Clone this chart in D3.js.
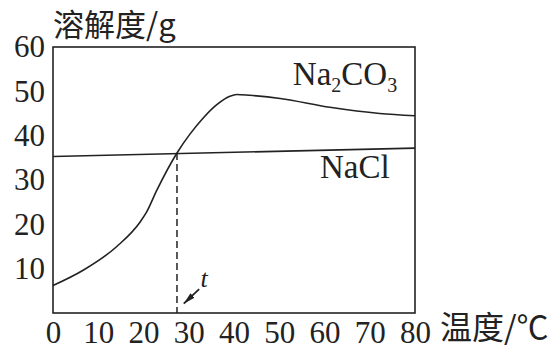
<!DOCTYPE html>
<html>
<head>
<meta charset="utf-8">
<script src="https://cdn.jsdelivr.net/npm/d3@7"></script>
<style>
  body { margin: 0; background: #fff; }
  svg { display: block; }
  .tick text { font-family: "Liberation Serif", "Times New Roman", serif; font-size: 31px; fill: #222; }
</style>
</head>
<body>
<svg id="chart" width="559" height="355"></svg>
<script>
// temperature ticks (°C) and solubility ticks (g)
const xTicks = [0, 10, 20, 30, 40, 50, 60, 70, 80];
const yTicks = [10, 20, 30, 40, 50, 60];

// Na2CO3 solubility curve: [temperature, solubility]
const na2co3 = [
  [0, 6.2], [6.75, 9.7], [14.1, 15.0], [19.3, 20.6], [20.7, 22.8],
  [22.9, 27.6], [27.4, 36.1], [30.3, 40.4], [33.2, 44.0], [36.2, 47.0],
  [39.1, 48.9], [40.6, 49.3], [43.5, 49.1], [50.2, 48.4], [61.2, 46.4],
  [72.2, 45.0], [80, 44.5]
];
// NaCl solubility line
const nacl = [[0, 35.3], [80, 37.2]];

// crossing point t and annotation anchors (data coords)
const crossing = [27.4, 36.1];
const arrowFrom = [32.3, 5.4];
const arrowTo = [28.9, 2.1];
const tLabel = [32.6, 5.8];
const na2co3Label = [53.0, 51.5];
const naclLabel = [59.0, 30.5];

const margin = {top: 47, right: 144, bottom: 42, left: 53};
const width = 559, height = 355;

const svg = d3.select("#chart");

const x = d3.scaleLinear().domain([0, 80]).range([margin.left, width - margin.right]);
const y = d3.scaleLinear().domain([0, 60]).range([height - margin.bottom, margin.top]);

const ink = "#222";
const serif = '"Liberation Serif", "Times New Roman", serif';
const cjk = '"Noto Sans CJK SC", sans-serif';

// frame
svg.append("rect")
  .attr("x", x(0)).attr("y", y(60))
  .attr("width", x(80) - x(0)).attr("height", y(0) - y(60))
  .attr("fill", "none").attr("stroke", ink).attr("stroke-width", 1.6);

// axes (labels only, no tick marks)
const xAxis = svg.append("g")
  .attr("transform", `translate(0,${y(0)})`)
  .call(d3.axisBottom(x).tickValues(xTicks).tickSize(0).tickPadding(8).tickFormat(d3.format("d")));
xAxis.select(".domain").remove();

const yAxis = svg.append("g")
  .attr("transform", `translate(${x(0)},0)`)
  .call(d3.axisLeft(y).tickValues(yTicks).tickSize(0).tickPadding(8).tickFormat(d3.format("d")));
yAxis.select(".domain").remove();

// axis titles
svg.append("text")
  .attr("x", x(0)).attr("y", 36)
  .attr("font-family", cjk).attr("font-size", 31).attr("fill", ink)
  .text("溶解度/g");

svg.append("text")
  .attr("x", 440).attr("y", 339)
  .attr("font-family", cjk).attr("font-size", 32).attr("fill", ink)
  .text("温度/℃");

// curves
const line = d3.line()
  .x(d => x(d[0]))
  .y(d => y(d[1]))
  .curve(d3.curveMonotoneX);

svg.append("path")
  .datum(na2co3)
  .attr("d", line)
  .attr("fill", "none").attr("stroke", ink).attr("stroke-width", 1.6);

svg.append("path")
  .datum(nacl)
  .attr("d", line)
  .attr("fill", "none").attr("stroke", ink).attr("stroke-width", 1.6);

// dashed drop line at t
svg.append("line")
  .attr("x1", x(crossing[0])).attr("x2", x(crossing[0]))
  .attr("y1", y(crossing[1])).attr("y2", y(0))
  .attr("stroke", ink).attr("stroke-width", 1.5)
  .attr("stroke-dasharray", "7,4");

// arrow to t
svg.append("defs").append("marker")
  .attr("id", "arrow")
  .attr("viewBox", "0 0 12 6")
  .attr("refX", 12).attr("refY", 3)
  .attr("markerWidth", 12).attr("markerHeight", 6)
  .attr("markerUnits", "userSpaceOnUse")
  .attr("orient", "auto")
  .append("path")
  .attr("d", "M0,0 L12,3 L0,6 Z")
  .attr("fill", ink);

svg.append("line")
  .attr("x1", x(arrowFrom[0])).attr("y1", y(arrowFrom[1]))
  .attr("x2", x(arrowTo[0])).attr("y2", y(arrowTo[1]))
  .attr("stroke", ink).attr("stroke-width", 1.8)
  .attr("marker-end", "url(#arrow)");

svg.append("text")
  .attr("x", x(tLabel[0])).attr("y", y(tLabel[1]))
  .attr("font-family", serif).attr("font-style", "italic")
  .attr("font-size", 26).attr("fill", ink)
  .text("t");

// series labels
const lab1 = svg.append("text")
  .attr("x", x(na2co3Label[0])).attr("y", y(na2co3Label[1]))
  .attr("font-family", serif).attr("font-size", 33).attr("fill", ink);
lab1.append("tspan").text("Na");
lab1.append("tspan").attr("font-size", 20).attr("dy", 7).text("2");
lab1.append("tspan").attr("dy", -7).text("CO");
lab1.append("tspan").attr("font-size", 20).attr("dy", 7).text("3");

svg.append("text")
  .attr("x", x(naclLabel[0])).attr("y", y(naclLabel[1]))
  .attr("font-family", serif).attr("font-size", 33).attr("fill", ink)
  .text("NaCl");
</script>
</body>
</html>
